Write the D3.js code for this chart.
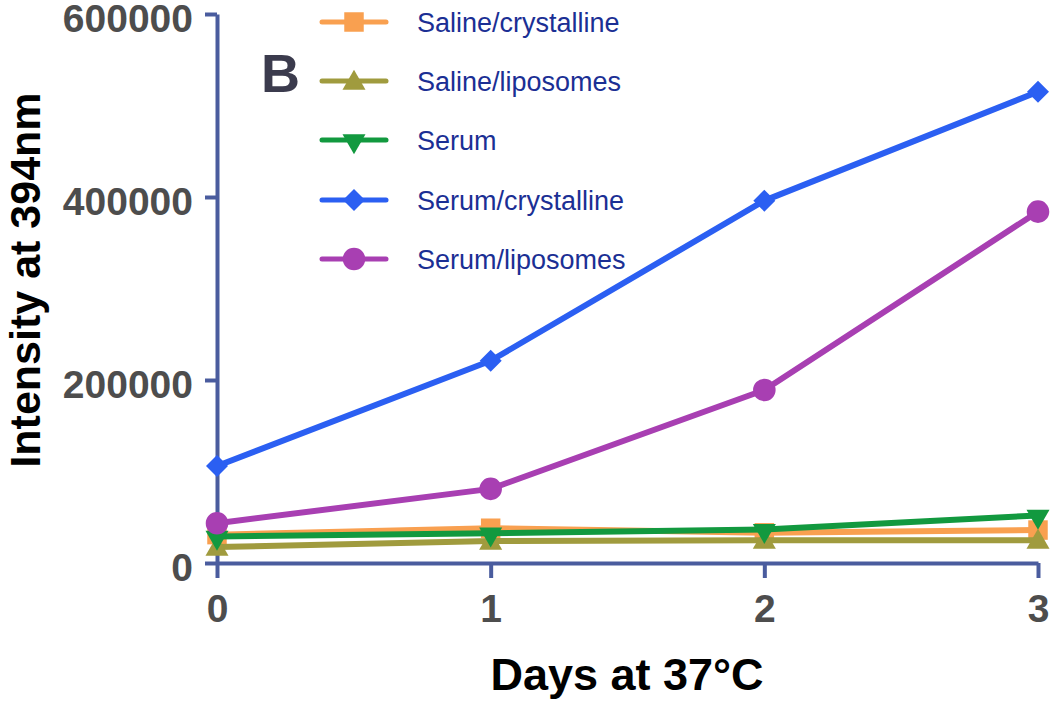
<!DOCTYPE html>
<html>
<head>
<meta charset="utf-8">
<script src="https://cdn.jsdelivr.net/npm/d3@7"></script>
<style>
  html, body { margin: 0; padding: 0; background: #fff; }
  svg { display: block; font-family: "Liberation Sans", Arial, sans-serif; }
</style>
</head>
<body>
<svg id="chart" width="1050" height="701"></svg>
<script>
const days = [0, 1, 2, 3];
const seriesNames = ["Saline/crystalline", "Saline/liposomes", "Serum", "Serum/crystalline", "Serum/liposomes"];
const salineCrystalline = [31000, 38000, 33000, 36000];
const salineLiposomes = [17500, 24000, 25000, 25000];
const serum = [29000, 32500, 36500, 52000];
const serumCrystalline = [106000, 221000, 396000, 515000];
const serumLiposomes = [43500, 81000, 189000, 384000];
const yTicks = [0, 200000, 400000, 600000];
const xTicks = [0, 1, 2, 3];
const colors = ["#f9a050", "#a09b3e", "#12993f", "#2b5ff2", "#a83fb2"];
const markers = ["square", "triangleUp", "triangleDown", "diamond", "circle"];
const values = [salineCrystalline, salineLiposomes, serum, serumCrystalline, serumLiposomes];

const svg = d3.select("#chart");
const W = 1050, H = 701;
const margin = { left: 217, top: 14, right: 12, bottom: 138 };
const x = d3.scaleLinear().domain([0, 3]).range([margin.left, W - margin.right]);
const y = d3.scaleLinear().domain([0, 600000]).range([H - margin.bottom, margin.top]);
const axisColor = "#4a5c9e";

// Axes
const gy = svg.append("g").attr("transform", `translate(${margin.left},0)`)
  .call(d3.axisLeft(y).tickValues(yTicks).tickSize(12).tickSizeOuter(0).tickPadding(12).tickFormat(d3.format("d")));
const gx = svg.append("g").attr("transform", `translate(0,${H - margin.bottom})`)
  .call(d3.axisBottom(x).tickValues(xTicks).tickSize(15).tickSizeOuter(0).tickPadding(16).tickFormat(d3.format("d")));
[gy, gx].forEach(g => {
  g.select(".domain").attr("stroke", axisColor).attr("stroke-width", 4);
  g.selectAll(".tick line").attr("stroke", axisColor).attr("stroke-width", 4);
  g.selectAll(".tick text").attr("fill", "#4d4d4d").attr("font-size", 39).attr("font-weight", "bold")
    .attr("font-family", "'Liberation Sans', Arial, sans-serif");
});
gy.selectAll(".tick text").attr("dy", "0.44em");

// Axis titles
svg.append("text").attr("x", 627).attr("y", 690).attr("text-anchor", "middle")
  .attr("font-size", 45).attr("font-weight", "bold").attr("fill", "#000").text("Days at 37°C");
svg.append("text").attr("transform", "translate(40,280) rotate(-90)").attr("text-anchor", "middle")
  .attr("font-size", 43).attr("font-weight", "bold").attr("fill", "#000").text("Intensity at 394nm");

// Panel letter
svg.append("text").attr("x", 261).attr("y", 92).attr("font-size", 54).attr("font-weight", "bold")
  .attr("fill", "#3b3b4d").text("B");

function symbolFor(name) {
  switch (name) {
    case "square": return d3.symbol().type(d3.symbolSquare).size(380)();
    case "triangleUp": return d3.symbol().type(d3.symbolTriangle).size(230)();
    case "triangleDown": return d3.symbol().type(d3.symbolTriangle).size(230)();
    case "diamond": return "M0,-11L11,0L0,11L-11,0Z";
    case "circle": return d3.symbol().type(d3.symbolCircle).size(400)();
  }
}
function symTransform(name, cx, cy) {
  if (name === "triangleDown") return `translate(${cx},${cy + 1}) rotate(180)`;
  if (name === "triangleUp") return `translate(${cx},${cy + 2})`;
  return `translate(${cx},${cy})`;
}

const line = d3.line().x((d, i) => x(days[i])).y(d => y(d));
values.forEach((vals, s) => {
  const g = svg.append("g");
  g.append("path").attr("d", line(vals)).attr("fill", "none")
    .attr("stroke", colors[s]).attr("stroke-width", 6).attr("stroke-linejoin", "round");
  vals.forEach((v, i) => {
    g.append("path").attr("d", symbolFor(markers[s]))
      .attr("transform", symTransform(markers[s], x(days[i]), y(v)))
      .attr("fill", colors[s]);
  });
});

// Legend
const legendY = [22, 81, 140, 200, 259];
seriesNames.forEach((name, s) => {
  const g = svg.append("g").attr("transform", `translate(0,${legendY[s]})`);
  g.append("line").attr("x1", 322).attr("x2", 386).attr("y1", 0).attr("y2", 0)
    .attr("stroke", colors[s]).attr("stroke-width", 5).attr("stroke-linecap", "round");
  g.append("path").attr("d", symbolFor(markers[s])).attr("transform", symTransform(markers[s], 354, 0))
    .attr("fill", colors[s]);
  g.append("text").attr("x", 417).attr("y", 0).attr("dy", "0.36em").attr("font-size", 27)
    .attr("fill", "#1b2f94").text(name);
});
</script>
</body>
</html>
